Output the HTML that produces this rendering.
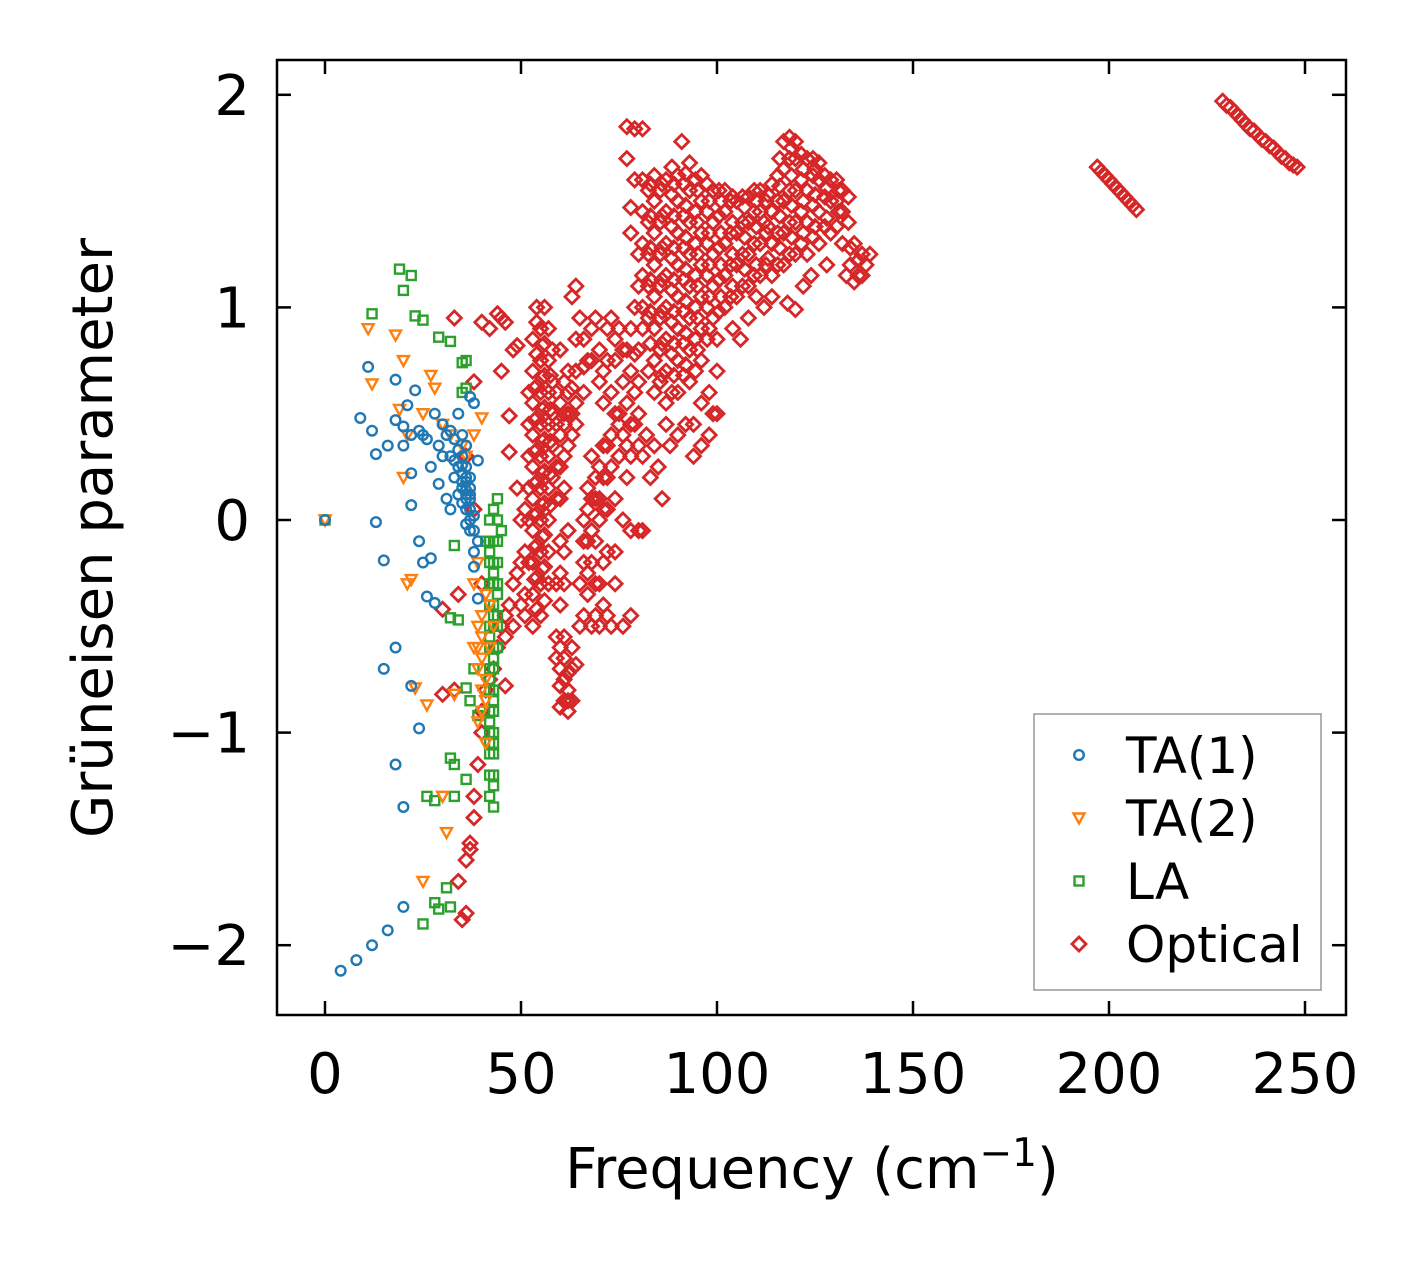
<!DOCTYPE html>
<html><head><meta charset="utf-8">
<style>body{margin:0;background:#fff}svg{display:block}text{font-family:"DejaVu Sans","Liberation Sans",sans-serif}</style>
</head><body>
<svg id="chart" width="1422" height="1264" viewBox="0 0 1422 1264" xmlns="http://www.w3.org/2000/svg">
<rect width="1422" height="1264" fill="#fff"/>
<g id="marks"></g>
<g id="axes"></g>
</svg>
<script>
const xTicks=[0,50,100,150,200,250];
const yTicks=[-2,-1,0,1,2];
const xTickLabels=["0","50","100","150","200","250"];
const yTickLabels=["\u22122","\u22121","0","1","2"];
const ta1=[[0,0],[4,-2.12],[8,-2.07],[12,-2.0],[16,-1.93],[20,-1.82],[9,0.48],[11,0.72],[12,0.42],[13,0.31],[13,-0.01],[15,-0.19],[15,-0.7],[16,0.35],[18,0.47],[18,0.66],[18,-0.6],[18,-1.15],[20,0.35],[20,0.44],[20,-1.35],[21,0.54],[22,0.22],[22,0.07],[22,0.4],[22,-0.78],[23,0.61],[24,-0.1],[24,-0.98],[25,-0.2],[25,0.4],[26,-0.36],[27,0.25],[27,-0.18],[28,-0.39],[28,0.5],[29,0.35],[29,0.17],[30,0.3],[31,0.1],[31,0.4],[32,0.05],[32,0.3],[33,0.38],[33,0.2],[34,0.5],[34,0.25],[35,0.15],[35,0.3],[35,0.4],[36,0.1],[36,0.05],[36,-0.02],[37,-0.05],[37,0.2],[37,0.58],[38,0.55],[38,-0.22],[38,0.02],[39,-0.1],[39,-0.37],[39,0.28],[36,0.18],[34,0.12],[33,0.28],[37,0.1],[38,-0.15],[36,0.35],[35,0.22],[36,0.25],[37,0.15],[36,0.12],[35,0.08],[37,0.0],[38,-0.05],[26,0.38],[24,0.42],[30,0.45],[32,0.42],[35,0.18],[36,0.2],[37,0.05],[36,0.14],[35,0.26],[37,0.12],[34,0.33]];
const ta2=[[0,0],[11,0.9],[12,0.64],[18,0.87],[20,0.75],[20,0.2],[21,-0.3],[22,-0.28],[23,-0.79],[26,-0.87],[25,-1.7],[25,0.5],[27,0.68],[28,0.62],[30,-1.3],[31,-1.47],[30,0.45],[32,0.4],[33,-0.82],[35,0.35],[36,0.3],[38,0.4],[38,-0.3],[38,-0.6],[39,-0.7],[39,-0.5],[40,-0.55],[40,-0.65],[40,-0.9],[41,-1.05],[41,-0.75],[42,-0.6],[42,-0.4],[40,0.48],[39,-0.2],[41,-0.35],[40,-0.8],[43,-0.5],[19,0.52],[21,0.4],[39,-0.95],[41,-0.85],[40,-0.45],[39,-0.6]];
const la=[[0,0],[12,0.97],[19,1.18],[20,1.08],[22,1.15],[23,0.96],[25,0.94],[29,0.86],[32,0.84],[33,-0.12],[32,-0.46],[34,-0.47],[35,0.74],[36,0.75],[36,0.62],[35,0.6],[36,-0.79],[37,-0.85],[36,-1.22],[33,-1.3],[26,-1.3],[28,-1.32],[32,-1.12],[33,-1.15],[31,-1.73],[28,-1.8],[29,-1.83],[32,-1.82],[25,-1.9],[42,0.0],[42,-0.2],[42,-0.4],[42,-0.6],[42,-0.8],[42,-1.0],[42,-1.2],[42,-1.3],[43,-0.1],[43,-0.3],[43,-0.5],[43,-0.7],[43,-0.9],[43,-1.1],[43,-1.35],[44,0.0],[44,-0.2],[44,-0.45],[44,0.1],[45,-0.05],[41,-0.1],[43,0.05],[42,-1.1],[44,-0.6],[38,-0.7],[39,-0.92],[42,-0.5],[42,-0.7],[42,-0.9],[43,-0.2],[43,-0.4],[43,-0.6],[43,-0.8],[43,-1.0],[43,-1.2],[42,-0.3],[44,-0.35],[44,-0.5],[42,-0.1],[42,-0.15],[43,-0.25],[43,-0.45],[43,-0.65],[43,-0.85],[43,-1.05],[43,-1.25],[42,-1.05],[42,-0.95],[42,-0.75],[42,-0.55],[44,-0.1],[44,-0.3]];
const optical=[
[35,-1.88],[36,-1.85],[36,-1.6],[37,-1.55],[37,-1.52],[38,-1.4],[38,-1.3],[39,-1.15],[40,-1.0],[40,-0.9],[41,-0.8],[42,-0.75],[43,-0.7],[44,-0.6],[45,-0.5],[46,-0.45],[33,0.95],[34,-0.35],[30,-0.42],[30,-0.82],[33,-0.8],[34,-1.7],[45,0.7],[47,0.49],[47,0.32],[45,0.95],[48,0.8],[49,0.82],[40,0.93],[42,0.9],[44,0.97],[46,0.93],[38,0.65],[36,0.3],[38,0.05],[40,-0.3],[46,-0.78],[47,-0.4],[48,-0.3],[49,-0.25],[50,-0.2],[46,-0.55],[48,-0.5],
[53,-0.5],[53,-0.35],[53,-0.2],[53,-0.05],[53,0.1],[53,0.25],[53,0.4],[53,0.55],[53,0.7],[53,0.85],[54,1.0],
[55,-0.45],[55,-0.3],[55,-0.15],[55,0.0],[55,0.15],[55,0.3],[55,0.45],[55,0.6],[55,0.75],[55,0.9],[56,1.0],
[57,-0.3],[57,-0.15],[57,0.0],[57,0.15],[57,0.3],[57,0.45],[57,0.6],[57,0.75],[57,0.9],
[54,-0.42],[54,-0.27],[54,-0.12],[54,0.03],[54,0.18],[54,0.33],[54,0.48],[54,0.63],[54,0.78],[54,0.93],
[56,-0.38],[56,-0.22],[56,-0.07],[56,0.08],[56,0.23],[56,0.38],[56,0.53],[56,0.68],[56,0.83],
[53.5,0.62],[53.5,0.47],[53.5,0.32],[53.5,0.17],[53.5,0.02],[53.5,-0.13],[53.5,-0.28],[55.5,0.67],[55.5,0.52],[55.5,0.37],[55.5,0.22],[55.5,0.07],[55.5,-0.08],[55.5,-0.23],[55.5,0.82],[57.5,0.52],[57.5,0.37],[57.5,0.22],[57.5,0.07],[57.5,0.68],
[58,0.2],[58,0.35],[58,0.5],[58,0.65],[58,0.8],[52,0.0],[52,-0.2],[52,0.15],[52,0.45],
[51,-0.35],[51,-0.15],[51,0.05],[51,-0.45],[52,0.3],[52,0.6],[50,0.0],[49,0.15],[50,-0.4],
[59,-0.55],[60,-0.6],[60,-0.7],[61,-0.75],[61,-0.85],[62,-0.8],[62,-0.9],[63,-0.7],[63,-0.85],[60,-0.1],[60,0.1],[61,-0.3],[61,0.3],[62,0.5],[62,0.6],[63,0.4],[64,0.55],[64,0.7],[63,1.05],[64,1.1],[65,0.95],[59,0.1],[60,0.4],[61,0.5],[59,0.6],[60,0.8],
[59,-0.65],[60,-0.78],[61,-0.65],[62,-0.72],[63,-0.6],[64,-0.68],[61,-0.55],[62,-0.85],[60,-0.88],
[59,0.25],[60,0.25],[61,0.15],[61,0.45],[62,0.35],[63,0.5],[62,0.7],[63,0.62],[64,0.45],[60,0.55],[59,0.45],[61,0.65],[60,-0.25],[61,-0.15],[62,-0.05],[60,-0.4],[59,-0.3],
[65,-0.3],[65,-0.5],[66,-0.45],[66,-0.2],[67,-0.1],[67,-0.35],[68,-0.5],[68,-0.2],[69,-0.3],[70,-0.5],[71,-0.4],[72,-0.45],[73,-0.5],[74,-0.3],[76,-0.5],[78,-0.45],
[66,0.0],[67,0.15],[68,0.3],[69,0.1],[70,0.25],[70,0.0],[71,0.35],[72,0.2],[73,0.4],[74,0.1],[75,0.3],[76,0.0],[77,0.2],[72,-0.15],[74,-0.15],[78,-0.05],[80,-0.05],[81,-0.05],
[66,-0.1],[67,0.05],[68,0.1],[68,-0.05],[69,-0.1],[69,0.2],[70,0.1],[71,0.05],[71,0.2],[72,0.05],[72,0.35],[73,0.25],[74,0.5],[75,0.45],[76,0.4],[77,0.35],[78,0.3],[79,0.45],[80,0.35],[67,-0.25],[69,-0.45],[70,-0.3],[71,-0.2],
[66,0.6],[67,0.75],[68,0.9],[69,0.95],[70,0.8],[71,0.7],[72,0.9],[73,0.6],[74,0.75],[75,0.5],[76,0.65],[77,0.55],[78,0.45],[79,0.6],[80,0.5],[71,0.55],[73,0.95],[75,0.9],[77,0.8],
[66,0.85],[68,0.75],[70,0.65],[72,0.75],[74,0.85],[76,0.8],[78,0.7],[78,0.9],[80,0.65],[79,0.78],[66,0.72],[64,0.85],
[78,1.35],[78,1.47],[79,1.6],[77,1.7],[77,1.85],[79,1.84],[81,1.84],[80,1.25],[80,1.1],[79,1.0],[80,0.8],[81,0.3],[82,0.4],[83,0.2],[84,0.35],[85,0.25],[86,0.1],[87,0.45],[88,0.35],[90,0.4],[92,0.45],[94,0.3],[96,0.55],[98,0.6],[100,0.7],[100,0.85],[99,0.5],
[81,0.9],[81,1.0],[81,1.15],[81,1.3],[81,1.45],[81,1.6],
[84,0.6],[84,0.75],[84,0.9],[84,1.05],[84,1.2],[84,1.35],[84,1.5],[84,1.62],
[87,0.55],[87,0.7],[87,0.85],[87,1.0],[87,1.15],[87,1.3],[87,1.45],[87,1.6],
[90,0.6],[90,0.75],[90,0.9],[90,1.05],[90,1.2],[90,1.35],[90,1.5],[90,1.62],[91,1.78],
[93,0.65],[93,0.8],[93,0.95],[93,1.1],[93,1.25],[93,1.4],[93,1.55],[93,1.68],
[96,0.75],[96,0.9],[96,1.05],[96,1.2],[96,1.35],[96,1.5],[96,1.62],
[99,0.95],[99,1.1],[99,1.25],[99,1.4],[99,1.55],
[102,1.0],[102,1.15],[102,1.3],[102,1.45],[102,1.55],
[105,1.05],[105,1.2],[105,1.35],[105,1.5],
[108,1.1],[108,1.25],[108,1.4],[108,1.52],
[111,1.15],[111,1.3],[111,1.45],[111,1.55],
[114,1.15],[114,1.3],[114,1.45],[114,1.58],
[117,1.2],[117,1.35],[117,1.5],[117,1.65],[117,1.78],
[120,1.25],[120,1.4],[120,1.55],[120,1.7],[120,1.78],
[123,1.25],[123,1.4],[123,1.55],[123,1.7],
[126,1.3],[126,1.45],[126,1.6],[126,1.68],
[129,1.35],[129,1.5],[129,1.6],
[132,1.3],[132,1.45],[132,1.55],
[82.5,0.95],[82.5,1.1],[82.5,1.25],[82.5,1.4],[82.5,1.55],[82.5,0.7],
[85.5,0.65],[85.5,0.8],[85.5,0.95],[85.5,1.1],[85.5,1.25],[85.5,1.4],[85.5,1.55],
[88.5,0.6],[88.5,0.78],[88.5,0.93],[88.5,1.08],[88.5,1.23],[88.5,1.38],[88.5,1.53],[88.5,1.66],
[91.5,0.68],[91.5,0.83],[91.5,0.98],[91.5,1.13],[91.5,1.28],[91.5,1.43],[91.5,1.58],
[94.5,0.7],[94.5,0.85],[94.5,1.0],[94.5,1.15],[94.5,1.3],[94.5,1.45],[94.5,1.6],
[97.5,0.85],[97.5,1.0],[97.5,1.15],[97.5,1.3],[97.5,1.45],[97.5,1.58],
[100.5,0.98],[100.5,1.13],[100.5,1.28],[100.5,1.43],[100.5,1.55],
[103.5,1.05],[103.5,1.2],[103.5,1.35],[103.5,1.5],
[106.5,1.1],[106.5,1.25],[106.5,1.4],[106.5,1.52],
[109.5,1.15],[109.5,1.3],[109.5,1.45],[109.5,1.55],
[112.5,1.2],[112.5,1.35],[112.5,1.5],
[115.5,1.2],[115.5,1.35],[115.5,1.5],[115.5,1.62],
[118.5,1.25],[118.5,1.4],[118.5,1.55],[118.5,1.7],[118.5,1.8],
[121.5,1.3],[121.5,1.45],[121.5,1.6],[121.5,1.72],
[124.5,1.33],[124.5,1.48],[124.5,1.62],[124.5,1.7],
[127.5,1.38],[127.5,1.52],[127.5,1.62],
[130.5,1.38],[130.5,1.5],[130.5,1.6],[133.5,1.4],[133.5,1.52],
[83,0.83],[83,0.98],[83,1.13],[83,1.28],[83,1.43],[83,1.58],
[86,0.68],[86,0.83],[86,0.98],[86,1.13],[86,1.28],[86,1.43],[86,1.58],
[89,0.68],[89,0.83],[89,0.98],[89,1.13],[89,1.28],[89,1.43],[89,1.58],
[92,0.73],[92,0.88],[92,1.03],[92,1.18],[92,1.33],[92,1.48],[92,1.63],
[95,0.8],[95,0.95],[95,1.1],[95,1.25],[95,1.4],[95,1.55],
[98,0.9],[98,1.05],[98,1.2],[98,1.35],[98,1.5],
[101,1.05],[101,1.2],[101,1.35],[101,1.5],
[104,1.1],[104,1.25],[104,1.4],[104,1.52],
[107,1.18],[107,1.33],[107,1.47],
[110,1.2],[110,1.38],[110,1.5],
[113,1.23],[113,1.38],[113,1.53],
[116,1.28],[116,1.43],[116,1.57],[116,1.7],
[119,1.33],[119,1.48],[119,1.62],[119,1.75],
[122,1.35],[122,1.5],[122,1.65],
[125,1.38],[125,1.53],[125,1.65],
[128,1.42],[128,1.56],[131,1.45],[131,1.55],
[134,1.2],[135,1.3],[136,1.15],[137,1.25],[138,1.2],[139,1.25],[135,1.12],[133,1.15],[136,1.22],[137,1.15],[134,1.28],
[110,1.05],[108,0.95],[106,0.85],[112,1.0],[118,1.02],[120,0.99],[100,0.5],[98,0.4],[96,0.35],[94,0.45],[104,0.9],[112,1.4],[114,1.05],[124,1.15],[128,1.2],[122,1.1],
[197,1.66],[198,1.64],[199,1.62],[200,1.6],[201,1.58],[202,1.56],[203,1.54],[204,1.52],[205,1.5],[206,1.48],[207,1.46],
[229,1.97],[230,1.95],[231,1.94],[232,1.92],[233,1.9],[234,1.88],[235,1.86],[236,1.84],[237,1.83],[238,1.81],[239,1.79],[240,1.78],[241,1.76],[242,1.75],[243,1.73],[244,1.71],[245,1.7],[246,1.68],[247,1.67],[248,1.66]
];
const X0=325,XS=3.92,Y0=520,YS=212.6;
function sx(v){return X0+v*XS}
function sy(v){return Y0-v*YS}
const NS="http://www.w3.org/2000/svg";
const marks=document.getElementById('marks');
const axes=document.getElementById('axes');
function mk(tag,attrs,parent){const e=document.createElementNS(NS,tag);for(const k in attrs)e.setAttribute(k,attrs[k]);parent.appendChild(e);return e;}
function marker(type,x,y,parent,name){
  let e;
  if(type==='circle'){e=mk('circle',{cx:x,cy:y,r:4.8,fill:'none',stroke:'#1f77b4','stroke-width':2.4},parent);}
  else if(type==='tri'){e=mk('polygon',{points:`${x-5.5},${y-4.5} ${x+5.5},${y-4.5} ${x},${y+5.5}`,fill:'none',stroke:'#ff7f0e','stroke-width':2.4},parent);}
  else if(type==='sq'){e=mk('rect',{x:x-4.5,y:y-4.5,width:9,height:9,fill:'none',stroke:'#2ca02c','stroke-width':2.4},parent);}
  else {e=mk('polygon',{points:`${x},${y-7} ${x+7},${y} ${x},${y+7} ${x-7},${y}`,fill:'none',stroke:'#d62728','stroke-width':2.8},parent);}
  
  
  return e;
}
optical.forEach(p=>marker('dia',sx(p[0]),sy(p[1]),marks,'optical-point'));
la.forEach(p=>marker('sq',sx(p[0]),sy(p[1]),marks,'la-point'));
ta2.forEach(p=>marker('tri',sx(p[0]),sy(p[1]),marks,'ta2-point'));
ta1.forEach(p=>marker('circle',sx(p[0]),sy(p[1]),marks,'ta1-point'));
const fr=mk('rect',{x:277,y:60,width:1069,height:955,fill:'none',stroke:'#000','stroke-width':2.5},axes);


xTicks.forEach((t,i)=>{
  const x=sx(t);
  mk('line',{x1:x,y1:1015,x2:x,y2:1001,stroke:'#000','stroke-width':2.5},axes);
  mk('line',{x1:x,y1:60,x2:x,y2:74,stroke:'#000','stroke-width':2.5},axes);
  const tx=mk('text',{x:x,y:1093,'font-size':56,'text-anchor':'middle'},axes);
  tx.textContent=xTickLabels[i];
  
  
});
yTicks.forEach((t,i)=>{
  const y=sy(t);
  mk('line',{x1:277,y1:y,x2:291,y2:y,stroke:'#000','stroke-width':2.5},axes);
  mk('line',{x1:1346,y1:y,x2:1332,y2:y,stroke:'#000','stroke-width':2.5},axes);
  const tx=mk('text',{x:250,y:y+20,'font-size':56,'text-anchor':'end'},axes);
  tx.textContent=yTickLabels[i];
  
  
});
const xl=mk('text',{x:812,y:1188,'font-size':56,'text-anchor':'middle'},axes);
xl.innerHTML='Frequency (cm<tspan dy="-22" font-size="39">\u22121</tspan><tspan dy="22">)</tspan>';


const yl=mk('text',{x:0,y:0,'font-size':56,'text-anchor':'middle',transform:'translate(112,538) rotate(-90)'},axes);
yl.textContent='Grüneisen parameter';


const lg=mk('g',{},axes);


mk('rect',{x:1034,y:714,width:287,height:276,fill:'#fff',stroke:'#999','stroke-width':1.5},lg);
const entries=[['circle','TA(1)'],['tri','TA(2)'],['sq','LA'],['dia','Optical']];
entries.forEach((en,i)=>{
  const y=755+i*63;
  marker(en[0],1079,y,lg,'legend-marker');
  const t=mk('text',{x:1126,y:y+18,'font-size':50},lg);
  t.textContent=en[1];
  
  
});
</script>
</body></html>
